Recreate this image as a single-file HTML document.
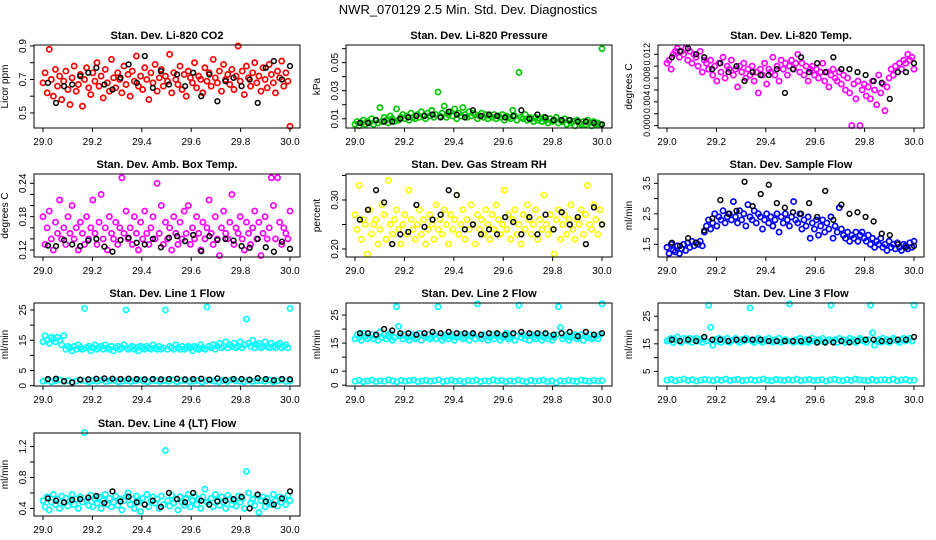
<!DOCTYPE html>
<html><head><meta charset="utf-8"><style>
html,body{margin:0;padding:0;background:#fff;}
svg{display:block;font-family:"Liberation Sans",Arial,sans-serif;}
</style></head><body>
<svg id="fig" width="936" height="540" viewBox="0 0 936 540">
<text x="468" y="14" text-anchor="middle" font-size="13">NWR_070129  2.5 Min. Std. Dev. Diagnostics</text>
</svg>
<script>
// ---- data arrays ----
const xTicks = [29.0,29.2,29.4,29.6,29.8,30.0];
const xTickLabels = ["29.0","29.2","29.4","29.6","29.8","30.0"];

const co2Red = [0.68,0.74,0.62,0.88,0.70,0.60,0.76,0.66,0.72,0.58,0.69,0.75,0.64,0.55,0.71,0.78,0.63,0.67,0.73,0.54,0.70,0.77,0.65,0.61,0.74,0.69,0.80,0.66,0.72,0.59,0.76,0.68,0.63,0.82,0.71,0.65,0.74,0.70,0.62,0.78,0.67,0.73,0.60,0.75,0.69,0.84,0.66,0.72,0.64,0.77,0.70,0.58,0.74,0.68,0.79,0.63,0.71,0.76,0.66,0.72,0.69,0.85,0.62,0.74,0.70,0.67,0.78,0.64,0.73,0.60,0.75,0.71,0.68,0.80,0.65,0.72,0.70,0.62,0.77,0.69,0.74,0.66,0.82,0.71,0.68,0.75,0.63,0.79,0.70,0.73,0.67,0.76,0.64,0.72,0.90,0.69,0.75,0.61,0.78,0.71,0.66,0.74,0.80,0.68,0.72,0.63,0.77,0.70,0.65,0.79,0.73,0.68,0.62,0.75,0.71,0.81,0.66,0.74,0.69,0.42];
const co2Black = [0.68,0.56,0.66,0.67,0.72,0.74,0.77,0.67,0.64,0.71,0.79,0.68,0.84,0.65,0.75,0.67,0.73,0.66,0.74,0.60,0.73,0.57,0.69,0.71,0.66,0.70,0.56,0.77,0.81,0.70,0.78];
const co2Ticks = [0.5,0.6,0.7,0.8,0.9];
const co2Labels = ["0.5","","0.7","","0.9"];

const presGreen = [0.006,0.008,0.005,0.007,0.009,0.006,0.008,0.007,0.010,0.006,0.009,0.007,0.018,0.008,0.011,0.009,0.007,0.012,0.010,0.008,0.017,0.009,0.011,0.013,0.010,0.012,0.009,0.014,0.011,0.010,0.013,0.011,0.015,0.012,0.010,0.014,0.012,0.016,0.011,0.013,0.029,0.012,0.014,0.019,0.011,0.013,0.015,0.012,0.017,0.010,0.014,0.012,0.018,0.013,0.011,0.015,0.012,0.014,0.013,0.010,0.012,0.014,0.011,0.013,0.010,0.012,0.011,0.013,0.010,0.012,0.011,0.013,0.009,0.012,0.011,0.010,0.016,0.012,0.009,0.043,0.011,0.010,0.013,0.009,0.011,0.010,0.008,0.011,0.009,0.010,0.008,0.011,0.009,0.007,0.010,0.008,0.009,0.011,0.007,0.009,0.008,0.010,0.006,0.009,0.007,0.008,0.005,0.009,0.007,0.006,0.008,0.006,0.009,0.007,0.005,0.008,0.006,0.007,0.006,0.060];
const presBlack = [0.007,0.007,0.009,0.008,0.008,0.010,0.011,0.012,0.012,0.013,0.011,0.015,0.013,0.011,0.016,0.012,0.013,0.012,0.011,0.012,0.016,0.010,0.013,0.011,0.009,0.009,0.009,0.008,0.008,0.007,0.006];
const presTicks = [0.01,0.02,0.03,0.04,0.05,0.06];
const presLabels = ["0.01","","0.03","","0.05",""];

const tempMag = [0.0105,0.011,0.0095,0.012,0.0125,0.013,0.0115,0.0125,0.012,0.013,0.011,0.0125,0.0105,0.012,0.0115,0.010,0.0125,0.009,0.011,0.0105,0.0095,0.011,0.0085,0.010,0.0075,0.0105,0.009,0.0115,0.008,0.010,0.0095,0.011,0.0085,0.0095,0.0065,0.010,0.009,0.0105,0.008,0.0095,0.0085,0.010,0.0075,0.009,0.0055,0.0095,0.0085,0.0105,0.007,0.0095,0.009,0.0115,0.0085,0.010,0.0075,0.011,0.0095,0.0105,0.0085,0.010,0.011,0.0095,0.0105,0.012,0.009,0.0105,0.0085,0.010,0.0075,0.0095,0.010,0.0085,0.0095,0.008,0.009,0.0105,0.0075,0.009,0.0065,0.0085,0.0095,0.008,0.0075,0.009,0.007,0.0085,0.006,0.008,0.0055,0.0,0.007,0.0045,0.0075,0.0,0.006,0.007,0.005,0.0065,0.0045,0.0075,0.006,0.0035,0.0085,0.0055,0.007,0.0025,0.0065,0.008,0.0095,0.0085,0.010,0.009,0.0105,0.0095,0.011,0.0105,0.012,0.011,0.0115,0.0095];
const tempBlack = [0.0115,0.0125,0.013,0.012,0.0115,0.0095,0.0105,0.009,0.010,0.0075,0.009,0.0085,0.0085,0.0095,0.0055,0.0095,0.0115,0.009,0.0105,0.009,0.0115,0.0095,0.0095,0.009,0.0085,0.0075,0.0072,0.0045,0.009,0.009,0.0105];
const tempTicks = [0,0.002,0.004,0.006,0.008,0.010,0.012];
const tempLabels = ["0.000","","0.004","","0.008","","0.012"];

const boxMag = [0.18,0.13,0.16,0.19,0.14,0.12,0.17,0.15,0.21,0.14,0.16,0.13,0.18,0.15,0.20,0.14,0.16,0.12,0.17,0.15,0.13,0.18,0.14,0.16,0.21,0.15,0.13,0.17,0.22,0.14,0.16,0.12,0.18,0.15,0.14,0.17,0.13,0.16,0.25,0.15,0.19,0.14,0.16,0.13,0.18,0.15,0.12,0.17,0.14,0.19,0.15,0.13,0.16,0.18,0.14,0.24,0.15,0.20,0.13,0.17,0.14,0.16,0.12,0.18,0.15,0.13,0.17,0.14,0.19,0.15,0.20,0.13,0.16,0.14,0.18,0.15,0.12,0.17,0.14,0.16,0.21,0.15,0.13,0.18,0.14,0.11,0.16,0.19,0.15,0.14,0.17,0.22,0.13,0.16,0.15,0.18,0.14,0.12,0.17,0.15,0.13,0.16,0.19,0.14,0.17,0.11,0.15,0.18,0.14,0.16,0.25,0.20,0.14,0.25,0.17,0.13,0.16,0.15,0.14,0.19];
const boxBlack = [0.128,0.127,0.138,0.13,0.127,0.137,0.14,0.126,0.117,0.138,0.142,0.133,0.13,0.14,0.125,0.142,0.145,0.136,0.147,0.118,0.145,0.138,0.14,0.137,0.127,0.124,0.14,0.125,0.117,0.135,0.122];
const boxTicks = [0.12,0.14,0.16,0.18,0.20,0.22,0.24];
const boxLabels = ["0.12","","","0.18","","","0.24"];

const rhYellow = [0.27,0.24,0.33,0.22,0.26,0.25,0.19,0.28,0.23,0.25,0.26,0.21,0.24,0.29,0.27,0.22,0.34,0.25,0.23,0.26,0.28,0.24,0.21,0.25,0.27,0.23,0.32,0.26,0.24,0.22,0.25,0.28,0.23,0.26,0.21,0.24,0.27,0.25,0.22,0.29,0.24,0.26,0.23,0.28,0.25,0.21,0.27,0.24,0.26,0.31,0.23,0.25,0.28,0.22,0.26,0.24,0.29,0.25,0.21,0.27,0.24,0.26,0.23,0.28,0.25,0.22,0.27,0.24,0.29,0.26,0.23,0.25,0.32,0.24,0.27,0.22,0.26,0.28,0.23,0.25,0.21,0.27,0.24,0.29,0.26,0.23,0.25,0.28,0.22,0.26,0.24,0.31,0.25,0.23,0.27,0.24,0.19,0.26,0.28,0.22,0.25,0.27,0.23,0.26,0.29,0.24,0.22,0.26,0.25,0.28,0.23,0.27,0.33,0.25,0.24,0.29,0.26,0.23,0.28,0.25];
const rhBlack = [0.26,0.28,0.32,0.295,0.21,0.23,0.235,0.29,0.245,0.26,0.27,0.32,0.31,0.24,0.25,0.23,0.24,0.23,0.265,0.255,0.23,0.265,0.23,0.27,0.24,0.275,0.25,0.265,0.21,0.285,0.25];
const rhTicks = [0.20,0.25,0.30,0.35];
const rhLabels = ["0.20","","0.30",""];

const flowBlue = [1.4,1.2,1.5,1.3,1.25,1.45,1.2,1.35,1.5,1.3,1.55,1.4,1.6,1.45,1.55,1.5,1.6,1.45,1.9,2.1,2.3,2.0,2.2,2.5,2.1,2.4,2.3,2.6,2.2,2.4,2.5,2.3,2.9,2.4,2.2,2.6,2.3,2.5,2.1,2.8,2.4,2.3,2.6,2.2,2.5,2.4,2.0,2.3,2.5,2.2,2.4,2.1,2.3,2.5,1.9,2.4,2.2,2.5,2.3,2.1,2.4,2.9,2.3,2.2,2.5,2.0,2.3,2.1,2.4,1.7,2.2,2.0,2.3,1.8,2.1,2.3,1.9,2.2,2.0,2.4,1.7,2.1,1.9,2.7,2.0,1.8,1.7,1.9,1.6,1.8,1.7,1.9,1.6,1.8,1.9,1.7,1.6,1.8,1.5,1.7,1.4,1.6,1.5,1.7,1.4,1.5,1.3,1.6,1.4,1.5,1.35,1.55,1.4,1.3,1.5,1.45,1.35,1.55,1.4,1.6];
const flowBlack = [1.55,1.45,1.7,1.55,1.95,2.35,2.95,2.5,2.6,3.55,2.75,3.15,3.45,2.85,2.7,2.55,2.5,2.85,2.4,3.25,2.3,2.8,2.5,2.55,2.4,2.25,1.85,1.8,1.5,1.4,1.45];
const flowTicks = [1.5,2.0,2.5,3.0,3.5];
const flowLabels = ["1.5","","2.5","","3.5"];

const line1Upper = [14.5,16.5,15,14,16,15.5,14.5,16,15,13.5,16.5,12,13,12.5,11.5,13,12,13.5,12.5,12,25.5,12.5,13,11.5,12.5,13.5,12,12.5,13,12,13.5,12.5,12,13,11.5,12.5,13,12,12.5,13.5,25,12,12.5,13,12,12.5,11.5,13,12.5,12,13,12.5,12,13.5,12.5,12,13,12,12.5,25,12,13,12.5,12,13.5,12.5,12,13,12,12.5,13,12.5,11.5,13,12.5,12,13.5,12.5,12,26,13,12.5,13.5,12,13,14,12.5,13,14.5,12.5,13.5,13,14,12.5,13,14.5,12.5,13.5,22,14,13,15,12.5,13.5,14,12.5,13,14.5,13,12.5,14,13,12.5,13.5,14,12.5,13,13.5,12.5,25.5];
const line1Lower = [1.5,1.8,1.3,1.6,1.9,1.4,1.7,1.2,1.5,1.8,1.6,1.3,1.7,1.5,1.9,1.4,1.6,1.8,1.3,1.5,1.7,1.4,1.6,1.9,1.5,1.3,1.8,1.6,1.4,1.7,1.5,1.9,1.3,1.6,1.8,1.4,1.5,1.7,1.2,1.6,1.8,1.5,1.3,1.7,1.4,1.9,1.6,1.5,1.3,1.8,1.4,1.6,1.7,1.5,1.9,1.3,1.6,1.8,1.4,1.5];
const line1Black = [2.2,2.3,1.5,1.1,2.0,2.1,2.3,2.4,2.3,2.2,2.3,2.2,2.1,2.2,2.1,2.2,2.3,2.1,2.2,2.3,2.0,2.4,1.9,2.2,2.2,2.0,2.5,2.2,1.8,2.2,2.1];
const line1Ticks = [0,5,10,15,20,25];
const line1Labels = ["0","5","","15","","25"];

const line2Upper = [16.5,18,17,16,18.5,17.5,16.5,17,18,16.5,17.5,16,19,17,18,16.5,17.5,18.5,16,17,28,21,17.5,16.5,18,17,16,17.5,18,16.5,17,18.5,16,17.5,17,18,16.5,17,18,16.5,28,17.5,16,17,18,16.5,17.5,18,16,17,17.5,18,16.5,17,18,16,17.5,18,16.5,29,17,16.5,18,17.5,16,17,18,16.5,17.5,18,16,17,17.5,18.5,16.5,17,18,16,17.5,28.5,17,18,16.5,17.5,16,18,17,16.5,17.5,18,16,17,18,16.5,17.5,16,17,18,28,20.5,16.5,17.5,18,16,17,17.5,18,16.5,17,18,16,17.5,17,18,16.5,17,17.5,16.5,18,29];
const line2Lower = [1.4,1.7,1.2,1.5,1.8,1.3,1.6,1.4,1.9,1.5,1.2,1.7,1.4,1.6,1.8,1.3,1.5,1.7,1.4,1.6,1.9,1.3,1.5,1.8,1.4,1.6,1.2,1.7,1.5,1.8,1.3,1.6,1.4,1.9,1.5,1.7,1.3,1.6,1.4,1.8,1.5,1.2,1.7,1.4,1.6,1.8,1.3,1.5,0.8,1.6,1.4,1.7,1.5,1.3,1.8,1.6,1.4,1.7,1.5,1.6];
const line2Black = [18.5,18.5,18,20,19.5,18.5,18.5,18,18.5,19,18.5,19,18.5,18.5,18.5,18,18.5,18.5,18,18.5,19,18.5,18.5,18.5,18,18.5,19,17.5,19,18,18.5];
const line2Ticks = [0,5,10,15,20,25];
const line2Labels = ["0","5","","15","","25"];

const line3Upper = [16,16.5,17,15.5,16.5,17.5,16,15.5,17,16.5,16,17,15.5,16.5,17,16,16.5,15.5,17,16,29,21,14.5,16.5,16,17,15.5,16.5,16,17,15.5,16,16.5,17,16,15.5,16.5,16,17,16.5,28,16,15.5,16.5,17,16,15.5,16.5,16,17,16,15.5,16.5,16,17,15.5,16,16.5,16,29.5,16,15.5,16.5,16,17,15.5,16,16.5,15.5,16,17,16,15.5,16.5,16,17,15.5,16,16.5,29,16,16.5,15.5,17,16,16.5,15.5,16,17,16,16.5,15.5,16,17,16.5,16,15.5,16.5,29,19,14.5,16,16.5,15.5,17,16,16.5,15.5,16,17,16.5,16,15.5,16.5,17,16,16.5,17,16,29];
const line3Lower = [1.8,2.1,1.6,1.9,2.2,1.7,2.0,1.5,1.8,2.1,1.9,1.6,2.0,1.8,2.2,1.7,1.9,2.1,1.6,1.8,2.0,1.7,1.9,2.2,1.8,1.6,2.1,1.9,1.7,2.0,1.8,2.2,1.6,1.9,2.1,1.7,1.8,2.0,1.5,1.9,2.1,1.8,1.6,2.0,1.7,2.2,1.9,1.8,1.6,2.1,1.7,1.9,2.0,1.8,2.2,1.6,1.9,2.1,1.7,1.8];
const line3Black = [16.5,16,16.5,16,17.5,16.5,16.5,16,16.5,16.5,16.5,16.5,16,16,16,16,16,16.5,15.5,15.5,15.5,16,15.5,16,16.5,16.5,16,16,16.5,16.5,17.5];
const line3Ticks = [5,10,15,20,25];
const line3Labels = ["5","","15","","25"];

const line4Cyan = [0.5,0.42,0.55,0.38,0.48,0.58,0.45,0.52,0.4,0.56,0.47,0.53,0.43,0.5,0.58,0.45,0.52,0.4,0.55,0.48,1.38,0.5,0.44,0.57,0.42,0.52,0.47,0.55,0.4,0.5,0.58,0.45,0.53,0.42,0.48,0.56,0.44,0.52,0.38,0.5,0.55,0.6,0.45,0.52,0.4,0.56,0.48,0.36,0.53,0.45,0.58,0.42,0.5,0.55,0.47,0.52,0.4,0.56,0.45,1.15,0.5,0.43,0.57,0.47,0.52,0.38,0.55,0.48,0.44,0.53,0.58,0.42,0.5,0.56,0.45,0.52,0.4,0.55,0.65,0.48,0.45,0.53,0.42,0.58,0.5,0.44,0.55,0.48,0.4,0.57,0.52,0.45,0.5,0.43,0.56,0.48,0.53,0.4,0.88,0.6,0.47,0.52,0.44,0.57,0.35,0.5,0.55,0.42,0.53,0.48,0.45,0.58,0.5,0.43,0.55,0.48,0.52,0.45,0.57,0.5];
const line4Black = [0.53,0.5,0.48,0.51,0.52,0.54,0.56,0.47,0.62,0.49,0.55,0.48,0.45,0.5,0.42,0.6,0.52,0.48,0.6,0.5,0.45,0.49,0.5,0.52,0.55,0.4,0.58,0.49,0.45,0.53,0.62];
const line4Ticks = [0.4,0.6,0.8,1.0,1.2];
const line4Labels = ["0.4","","0.8","","1.2"];

// ---- layout ----
const NS = "http://www.w3.org/2000/svg";
const svg = document.getElementById('fig');
const colL = [34, 346, 658];
const rowT = [45, 174, 303, 433];
const W = 266, H = 83;

const panels = [
 {key:'co2',title:'Stan. Dev. Li-820 CO2',ylab:'Licor ppm',c:0,r:0,ylim:[0.41,0.906],ticks:co2Ticks,labels:co2Labels,series:[[co2Red,'#ff0000']],black:co2Black,fs:10},
 {key:'pressure',title:'Stan. Dev. Li-820 Pressure',ylab:'kPa',c:1,r:0,ylim:[0.0034,0.0626],ticks:presTicks,labels:presLabels,series:[[presGreen,'#00c800']],black:presBlack,fs:10},
 {key:'temp',title:'Stan. Dev. Li-820 Temp.',ylab:'degrees C',c:2,r:0,ylim:[-0.0004,0.01356],ticks:tempTicks,labels:tempLabels,series:[[tempMag,'#ff00ff']],black:tempBlack,fs:9},
 {key:'box-temp',title:'Stan. Dev. Amb. Box Temp.',ylab:'degrees C',c:0,r:1,ylim:[0.1074,0.2568],ticks:boxTicks,labels:boxLabels,series:[[boxMag,'#ff00ff']],black:boxBlack,fs:10},
 {key:'rh',title:'Stan. Dev. Gas Stream RH',ylab:'percent',c:1,r:1,ylim:[0.1837,0.353],ticks:rhTicks,labels:rhLabels,series:[[rhYellow,'#ffff00']],black:rhBlack,fs:10},
 {key:'sample-flow',title:'Stan. Dev. Sample Flow',ylab:'ml/min',c:2,r:1,ylim:[1.084,3.805],ticks:flowTicks,labels:flowLabels,series:[[flowBlue,'#0000ff']],black:flowBlack,fs:10},
 {key:'line1',title:'Stan. Dev. Line 1 Flow',ylab:'ml/min',c:0,r:2,ylim:[-0.1,27.3],ticks:line1Ticks,labels:line1Labels,series:[[line1Lower,'#00ffff'],[line1Upper,'#00ffff']],black:line1Black,fs:10},
 {key:'line2',title:'Stan. Dev. Line 2 Flow',ylab:'ml/min',c:1,r:2,ylim:[-0.3,29.3],ticks:line2Ticks,labels:line2Labels,series:[[line2Lower,'#00ffff'],[line2Upper,'#00ffff']],black:line2Black,fs:10},
 {key:'line3',title:'Stan. Dev. Line 3 Flow',ylab:'ml/min',c:2,r:2,ylim:[-0.3,29.8],ticks:line3Ticks,labels:line3Labels,series:[[line3Lower,'#00ffff'],[line3Upper,'#00ffff']],black:line3Black,fs:10},
 {key:'line4',title:'Stan. Dev. Line 4 (LT) Flow',ylab:'ml/min',c:0,r:3,ylim:[0.302,1.375],ticks:line4Ticks,labels:line4Labels,series:[[line4Cyan,'#00ffff']],black:line4Black,fs:10}
];

function mk(tag, attrs, parent){
  const e = document.createElementNS(NS, tag);
  for (const k in attrs) e.setAttribute(k, attrs[k]);
  (parent||svg).appendChild(e);
  return e;
}

panels.forEach(p => {
  const L = colL[p.c], T = rowT[p.r];
  const g = mk('g', {});
  
  
  const xs = v => L + 9 + (v - 29) * 247;
  const ys = v => T + H - (v - p.ylim[0]) / (p.ylim[1] - p.ylim[0]) * H;

  const t = mk('text', {x: L + W/2, y: T - 6, 'text-anchor':'middle', 'font-size':'11', 'font-weight':'bold'}, g);
  t.textContent = p.title;
  
  

  const yl = mk('text', {x:0, y:0, transform:`translate(${L-26},${T+H/2}) rotate(-90)`, 'text-anchor':'middle', 'font-size':'10'}, g);
  yl.textContent = p.ylab;
  
  

  p.series.forEach(([vals, col]) => {
    const n = vals.length;
    vals.forEach((v, i) => {
      const c = mk('circle', {cx: xs(29 + i/(n-1)), cy: ys(v), r: 2.6, fill:'none', stroke: col, 'stroke-width': 1.7}, g);
      
      
    });
  });
  const nb = p.black.length;
  p.black.forEach((v, i) => {
    const c = mk('circle', {cx: xs(29.02 + 0.98*i/(nb-1)), cy: ys(v), r: 2.4, fill:'none', stroke:'#000', 'stroke-width': 1.5}, g);
    
    
  });

  const box = mk('rect', {x:L, y:T, width:W, height:H, fill:'none', stroke:'#000', 'stroke-width':1}, g);
  
  

  xTicks.forEach((v, i) => {
    const X = xs(v);
    mk('line', {x1:X, x2:X, y1:T+H, y2:T+H+4, stroke:'#000'}, g);
    const tl = mk('text', {x:X, y:T+H+17, 'text-anchor':'middle', 'font-size':'10'}, g);
    tl.textContent = xTickLabels[i];
    
    
  });
  p.ticks.forEach((v, i) => {
    const Y = ys(v);
    mk('line', {x1:L-4, x2:L, y1:Y, y2:Y, stroke:'#000'}, g);
    if (p.labels[i]) {
      const tl = mk('text', {x:0, y:0, transform:`translate(${L-8},${Y}) rotate(-90)`, 'text-anchor':'middle', 'font-size':p.fs}, g);
      tl.textContent = p.labels[i];
      
      
    }
  });
});
</script>
</body></html>
